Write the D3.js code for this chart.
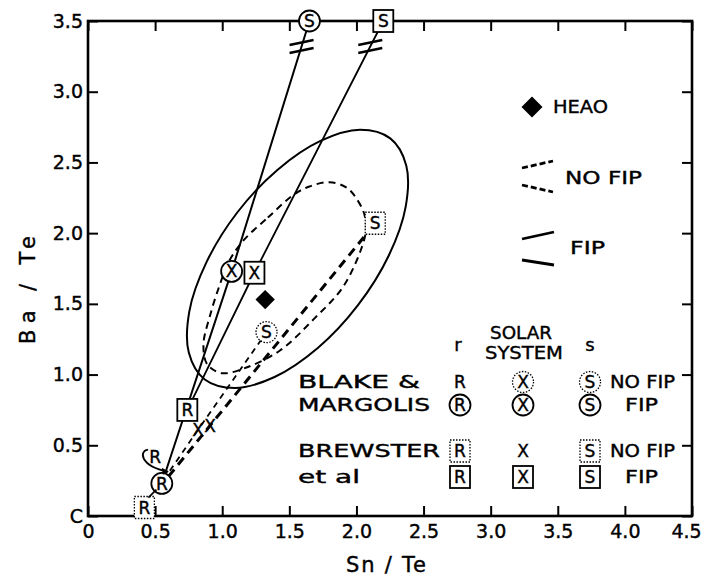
<!DOCTYPE html>
<html>
<head>
<meta charset="utf-8">
<script src="https://cdn.jsdelivr.net/npm/d3@7"></script>
<style>
  html, body { margin: 0; padding: 0; background: #fff; }
  svg { display: block; font-family: "DejaVu Sans", sans-serif; }
  svg text { fill: #000; stroke: #000; stroke-width: 0.4px; }
</style>
</head>
<body>
<svg width="702" height="576"></svg>
<script>
// ticks
const xTicks = [0, 0.5, 1, 1.5, 2, 2.5, 3, 3.5, 4, 4.5];
const xTickLabels = ["0", "0.5", "1.0", "1.5", "2.0", "2.5", "3.0", "3.5", "4.0", "4.5"];
const yTicks = [0, 0.5, 1, 1.5, 2, 2.5, 3, 3.5];
const yTickLabels = ["C", "0.5", "1.0", "1.5", "2.0", "2.5", "3.0", "3.5"];

// r, solar system, s for each model  [Sn/Te, Ba/Te]
const kinds = ["R", "X", "S"];
const blakeNoFip = [[0.50, 0.42], [0.82, 0.61], [1.33, 1.30]];
const blakeFip = [[0.55, 0.23], [1.07, 1.73], [1.65, 3.5]];
const brewsterNoFip = [[0.42, 0.06], [0.91, 0.64], [2.14, 2.07]];
const brewsterFip = [[0.74, 0.75], [1.24, 1.72], [2.20, 3.5]];
const heao = [1.32, 1.53];

// r end of the dashed (no FIP) lines
const blakeNoFipStart = [0.61, 0.32];
const brewsterNoFipStart = [0.60, 0.28];
const breakY = 3.32;

// error contours
const fipContour = [
  [2.252, 2.670], [2.371, 2.479], [2.367, 2.188], [2.241, 1.842], [2.010, 1.489], [1.712, 1.188],
  [1.390, 0.983], [1.095, 0.905], [0.870, 0.965], [0.751, 1.156], [0.755, 1.447], [0.882, 1.793],
  [1.112, 2.146], [1.411, 2.447], [1.732, 2.652], [2.027, 2.731]
];
const noFipContour = [
  [1.16, 1.95], [1.34, 2.11], [1.53, 2.27], [1.65, 2.33], [1.80, 2.36], [1.93, 2.32],
  [2.01, 2.23], [2.06, 2.13], [2.07, 2.02], [2.04, 1.90], [1.90, 1.62], [1.68, 1.39],
  [1.43, 1.17], [1.18, 1.05], [1.00, 1.01], [0.89, 1.07], [0.86, 1.21],
  [0.91, 1.42], [0.98, 1.63], [1.05, 1.80]
];

const svg = d3.select("svg");
const x = d3.scaleLinear([0, 4.5], [88, 692]);
const y = d3.scaleLinear([0, 3.5], [516, 21]);
const line = d3.line().x(d => x(d[0])).y(d => y(d[1]));

// frame + axes
const axes = svg.append("g").attr("class", "axes");
function styleAxis(g) {
  g.select(".domain").remove();
  g.selectAll(".tick line").attr("stroke", "#000").attr("stroke-width", 2);
  g.selectAll("text").attr("font-size", 19).attr("font-family", "DejaVu Sans");
}
const xAxisG = axes.append("g").attr("transform", `translate(0,${y(0)})`)
  .call(d3.axisBottom(x).tickValues(xTicks).tickSizeInner(-10).tickSizeOuter(0)
    .tickPadding(9).tickFormat((d, i) => xTickLabels[i]))
  .call(styleAxis);
xAxisG.selectAll(".tick text").filter(d => d === 4.5).attr("dx", -6);
axes.append("g").attr("transform", `translate(${x(0)},0)`)
  .call(d3.axisLeft(y).tickValues(yTicks).tickSizeInner(-10).tickSizeOuter(0)
    .tickPadding(5).tickFormat((d, i) => yTickLabels[i]))
  .call(styleAxis);
axes.append("g").attr("transform", `translate(0,${y(3.5)})`)
  .call(d3.axisTop(x).tickValues(xTicks).tickSizeInner(-10).tickSizeOuter(0).tickFormat(""))
  .call(styleAxis);
axes.append("g").attr("transform", `translate(${x(4.5)},0)`)
  .call(d3.axisRight(y).tickValues(yTicks).tickSizeInner(-10).tickSizeOuter(0).tickFormat(""))
  .call(styleAxis);
axes.append("rect")
  .attr("x", x(0)).attr("y", y(3.5))
  .attr("width", x(4.5) - x(0)).attr("height", y(0) - y(3.5))
  .attr("fill", "none").attr("stroke", "#000").attr("stroke-width", 2.6);

svg.append("text").attr("x", 386).attr("y", 572).attr("text-anchor", "middle")
  .attr("font-size", 21).attr("textLength", 80).attr("lengthAdjust", "spacing")
  .text("Sn / Te");
svg.append("text").attr("transform", "translate(35,290) rotate(-90)").attr("text-anchor", "middle")
  .attr("font-size", 21).attr("textLength", 108).attr("lengthAdjust", "spacing")
  .text("Ba / Te");

// contours
const plot = svg.append("g");
const closed = d3.line().x(d => x(d[0])).y(d => y(d[1])).curve(d3.curveCatmullRomClosed);
plot.append("path").attr("d", closed(fipContour))
  .attr("fill", "none").attr("stroke", "#000").attr("stroke-width", 2);
plot.append("path").attr("d", closed(noFipContour))
  .attr("fill", "none").attr("stroke", "#000").attr("stroke-width", 2)
  .attr("stroke-dasharray", "7,5");

// mixing lines
plot.append("path").attr("d", line(blakeFip))
  .attr("fill", "none").attr("stroke", "#000").attr("stroke-width", 2);
plot.append("path").attr("d", line(brewsterFip))
  .attr("fill", "none").attr("stroke", "#000").attr("stroke-width", 1.8);
plot.append("path").attr("d", line([blakeNoFipStart, blakeNoFip[1], blakeNoFip[2]]))
  .attr("fill", "none").attr("stroke", "#000").attr("stroke-width", 1.8)
  .attr("stroke-dasharray", "6,5");
plot.append("path").attr("d", line([brewsterNoFipStart, brewsterNoFip[1], brewsterNoFip[2]]))
  .attr("fill", "none").attr("stroke", "#000").attr("stroke-width", 3)
  .attr("stroke-dasharray", "9,6");

// break marks where the FIP lines go off scale
[blakeFip, brewsterFip].forEach(pts => {
  const a = pts[1], b = pts[2];
  const t = (breakY - a[1]) / (b[1] - a[1]);
  const bx = x(a[0] + t * (b[0] - a[0])), by = y(breakY);
  [-4, 4].forEach(off => {
    plot.append("line")
      .attr("x1", bx - 12).attr("y1", by + off + 2.5)
      .attr("x2", bx + 12).attr("y2", by + off - 2.5)
      .attr("stroke", "#000").attr("stroke-width", 2.4);
  });
});

// markers
function marker(sel, kind, px, py, style) {
  const g = sel.append("g").attr("transform", `translate(${px},${py})`);
  if (style === "circle" || style === "dottedCircle") {
    g.append("circle").attr("r", 10.5).attr("fill", "#fff").attr("stroke", "#000")
      .attr("stroke-width", style === "circle" ? 1.8 : 1.3)
      .attr("stroke-dasharray", style === "dottedCircle" ? "1.5,1.5" : null);
  } else if (style === "square" || style === "dottedSquare") {
    g.append("rect").attr("x", -10).attr("y", -11).attr("width", 20).attr("height", 22)
      .attr("fill", "#fff").attr("stroke", "#000")
      .attr("stroke-width", style === "square" ? 1.8 : 1.3)
      .attr("stroke-dasharray", style === "dottedSquare" ? "1.5,1.5" : null);
  }
  g.append("text").attr("text-anchor", "middle").attr("dy", "0.36em")
    .attr("font-size", 17).text(kind);
}

const plotStyles = [
  [blakeNoFip, ["plain", "plain", "dottedCircle"]],
  [blakeFip, ["circle", "circle", "circle"]],
  [brewsterNoFip, ["dottedSquare", "plain", "dottedSquare"]],
  [brewsterFip, ["square", "square", "square"]]
];
plotStyles.forEach(([pts, styles]) => {
  pts.forEach((p, i) => marker(plot, kinds[i], x(p[0]), y(p[1]), styles[i]));
});

// little arrows from the off-line R labels
{
  const rx = x(blakeNoFip[0][0]), ry = y(blakeNoFip[0][1]);
  const tx = x(blakeNoFipStart[0]), ty = y(blakeNoFipStart[1]);
  plot.append("path")
    .attr("d", `M${rx - 7},${ry - 7} C${rx - 16},${ry - 6} ${rx - 16},${ry + 9} ${tx - 2},${ty + 1}`)
    .attr("fill", "none").attr("stroke", "#000").attr("stroke-width", 1.8);
  plot.append("path")
    .attr("d", `M${tx - 1},${ty + 1} l-7,-4 l1,7 z`).attr("fill", "#000");
  const qx = x(brewsterNoFip[0][0]), qy = y(brewsterNoFip[0][1]);
  plot.append("line").attr("x1", qx + 4).attr("y1", qy - 10).attr("x2", qx + 12).attr("y2", qy - 18)
    .attr("stroke", "#000").attr("stroke-width", 1.8);
}

// HEAO point
const diamond = d3.symbol().type(d3.symbolDiamond2).size(240);
plot.append("path").attr("d", diamond())
  .attr("transform", `translate(${x(heao[0])},${y(heao[1])})`).attr("fill", "#000");

// legend, upper right
const leg = svg.append("g").attr("font-size", 18);
leg.append("path").attr("d", d3.symbol().type(d3.symbolDiamond2).size(280)())
  .attr("transform", "translate(532,107)").attr("fill", "#000");
leg.append("text").attr("x", 553).attr("y", 107).attr("dy", "0.36em")
  .attr("textLength", 55).attr("lengthAdjust", "spacingAndGlyphs").text("HEAO");
leg.append("line").attr("x1", 522).attr("y1", 168).attr("x2", 553).attr("y2", 161)
  .attr("stroke", "#000").attr("stroke-width", 2.8).attr("stroke-dasharray", "6,3");
leg.append("line").attr("x1", 522).attr("y1", 185).attr("x2", 553).attr("y2", 192)
  .attr("stroke", "#000").attr("stroke-width", 2.8).attr("stroke-dasharray", "6,3");
leg.append("text").attr("x", 565).attr("y", 178).attr("dy", "0.36em")
  .attr("textLength", 77).attr("lengthAdjust", "spacingAndGlyphs").text("NO FIP");
leg.append("line").attr("x1", 522).attr("y1", 239).attr("x2", 554).attr("y2", 232)
  .attr("stroke", "#000").attr("stroke-width", 2.8);
leg.append("line").attr("x1", 522).attr("y1", 260).attr("x2", 554).attr("y2", 265)
  .attr("stroke", "#000").attr("stroke-width", 2.8);
leg.append("text").attr("x", 570).attr("y", 248).attr("dy", "0.36em")
  .attr("textLength", 35).attr("lengthAdjust", "spacingAndGlyphs").text("FIP");

// legend table, lower right
const tab = svg.append("g").attr("font-size", 18);
const colX = [460, 523, 590];
const rowY = [382, 405, 451, 477];
const rowStyles = [
  ["plain", "dottedCircle", "dottedCircle"],
  ["circle", "circle", "circle"],
  ["dottedSquare", "plain", "dottedSquare"],
  ["square", "square", "square"]
];
const rowNames = [["BLAKE &", 122], ["MARGOLIS", 132], ["BREWSTER", 142], ["et al", 62]];
const rowTags = [["NO FIP", 610, 65], ["FIP", 625, 33], ["NO FIP", 610, 65], ["FIP", 625, 33]];
tab.append("text").attr("x", colX[0] - 2).attr("y", 345).attr("text-anchor", "middle")
  .attr("dy", "0.36em").text("r");
tab.append("text").attr("x", colX[2]).attr("y", 345).attr("text-anchor", "middle")
  .attr("dy", "0.36em").text("s");
tab.append("text").attr("x", 490).attr("y", 333).attr("dy", "0.36em")
  .attr("textLength", 62).attr("lengthAdjust", "spacingAndGlyphs").text("SOLAR");
tab.append("text").attr("x", 485).attr("y", 353).attr("dy", "0.36em")
  .attr("textLength", 78).attr("lengthAdjust", "spacingAndGlyphs").text("SYSTEM");
rowY.forEach((ry, r) => {
  tab.append("text").attr("x", 298).attr("y", ry).attr("dy", "0.36em")
    .attr("textLength", rowNames[r][1]).attr("lengthAdjust", "spacingAndGlyphs").text(rowNames[r][0]);
  rowStyles[r].forEach((st, c) => marker(tab, kinds[c], colX[c], ry, st));
  tab.append("text").attr("x", rowTags[r][1]).attr("y", ry).attr("dy", "0.36em")
    .attr("textLength", rowTags[r][2]).attr("lengthAdjust", "spacingAndGlyphs").text(rowTags[r][0]);
});
</script>
</body>
</html>
